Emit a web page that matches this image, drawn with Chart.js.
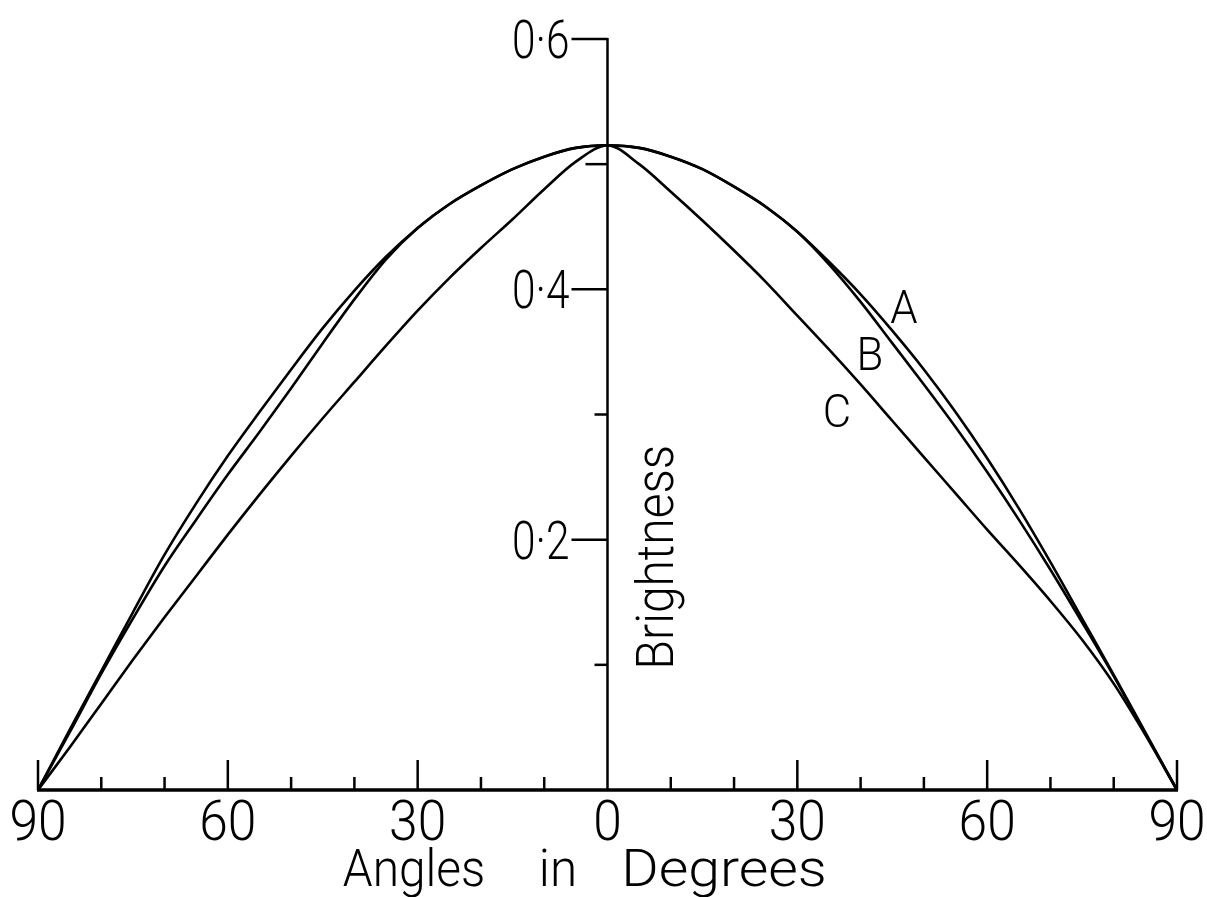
<!DOCTYPE html>
<html>
<head>
<meta charset="utf-8">
<title>Brightness</title>
<script src="https://cdn.jsdelivr.net/npm/chart.js@4/dist/chart.umd.min.js"></script>
<style>
  html, body { margin: 0; padding: 0; background: #fff; }
  #wrap { width: 1207px; height: 897px; }
</style>
</head>
<body>
<div id="wrap"><canvas id="chart" width="1207" height="897"></canvas></div>
<script>
// angle of observation, left half drawn as negative
const ANGLES = [-90, -85, -80, -75, -70, -65, -60, -55, -50, -45, -40, -35, -30, -25, -20, -15, -10, -5,
  0, 5, 10, 15, 20, 25, 30, 35, 40, 45, 50, 55, 60, 65, 70, 75, 80, 85, 90];

const CURVE_A = [0, 0.048, 0.095, 0.142, 0.188, 0.229, 0.267, 0.302, 0.336, 0.369, 0.399, 0.426, 0.449, 0.468, 0.483, 0.496, 0.506, 0.513,
  0.515, 0.513, 0.506, 0.496, 0.482, 0.466, 0.446, 0.422, 0.396, 0.367, 0.336, 0.302, 0.265, 0.225, 0.182, 0.137, 0.092, 0.046, 0];

const CURVE_B = [0, 0.046, 0.093, 0.137, 0.179, 0.216, 0.252, 0.286, 0.321, 0.357, 0.392, 0.424, 0.449, 0.468, 0.483, 0.496, 0.506, 0.513,
  0.515, 0.513, 0.506, 0.496, 0.482, 0.466, 0.446, 0.420, 0.390, 0.357, 0.324, 0.290, 0.254, 0.216, 0.176, 0.134, 0.091, 0.045, 0];

const CURVE_C = [0, 0.034, 0.069, 0.104, 0.138, 0.171, 0.204, 0.236, 0.267, 0.297, 0.326, 0.355, 0.383, 0.409, 0.433, 0.456, 0.480, 0.502,
  0.515, 0.500, 0.478, 0.455, 0.431, 0.406, 0.379, 0.352, 0.324, 0.295, 0.266, 0.237, 0.208, 0.180, 0.151, 0.120, 0.085, 0.044, 0];

const X_TICKS = [-90, -80, -70, -60, -50, -40, -30, -20, -10, 10, 20, 30, 40, 50, 60, 70, 80, 90];
const X_LABELS = [-90, -60, -30, 0, 30, 60, 90];
const Y_TICKS = [0.1, 0.2, 0.3, 0.4, 0.5, 0.6];
const Y_LABELS = [0.2, 0.4, 0.6];

const INK = "#000";
const FONT = "Roboto, 'DejaVu Sans', sans-serif";

function toPoints(values) {
  return ANGLES.map((a, i) => ({ x: a, y: values[i] }));
}

// light lettering, optionally squeezed or stretched horizontally
function letter(ctx, text, x, y, size, sx, align) {
  ctx.save();
  ctx.font = "300 " + size + "px " + FONT;
  ctx.fillStyle = INK;
  ctx.textBaseline = "alphabetic";
  ctx.translate(x, y);
  ctx.scale(sx, 1);
  const w = ctx.measureText(text).width;
  let dx = 0;
  if (align === "center") dx = -w / 2;
  if (align === "right") dx = -w;
  ctx.fillText(text, dx, 0);
  ctx.restore();
}

function fmt(v) {
  return v.toFixed(1).replace(".", "\u00b7");
}

const axesPlugin = {
  id: "axes",
  beforeDraw(chart) {
    const ctx = chart.ctx;
    ctx.save();
    ctx.fillStyle = "#fff";
    ctx.fillRect(0, 0, chart.width, chart.height);
    ctx.restore();
  },
  afterDraw(chart) {
    const ctx = chart.ctx;
    const xs = chart.scales.x;
    const ys = chart.scales.y;
    const x0 = xs.getPixelForValue(0);
    const yBase = ys.getPixelForValue(0);
    const yTop = ys.getPixelForValue(0.6);

    ctx.save();
    ctx.strokeStyle = INK;
    ctx.lineCap = "butt";

    // baseline
    ctx.lineWidth = 3.5;
    ctx.beginPath();
    ctx.moveTo(xs.getPixelForValue(-90) - 1, yBase);
    ctx.lineTo(xs.getPixelForValue(90) + 1, yBase);
    ctx.stroke();

    // vertical axis through 0
    ctx.lineWidth = 2.5;
    ctx.beginPath();
    ctx.moveTo(x0, yBase);
    ctx.lineTo(x0, yTop - 1);
    ctx.stroke();

    // x ticks point upward
    ctx.lineWidth = 2.5;
    X_TICKS.forEach((t) => {
      const px = xs.getPixelForValue(t);
      const len = t % 30 === 0 ? 30 : 13;
      ctx.beginPath();
      ctx.moveTo(px, yBase);
      ctx.lineTo(px, yBase - len);
      ctx.stroke();
    });

    // y ticks point left
    Y_TICKS.forEach((t) => {
      const py = ys.getPixelForValue(t);
      const major = Y_LABELS.some((v) => Math.abs(v - t) < 1e-6);
      const len = major ? 36 : (t > 0.45 ? 22 : 13);
      ctx.beginPath();
      ctx.moveTo(x0, py);
      ctx.lineTo(x0 - len, py);
      ctx.stroke();
    });
    ctx.restore();

    // tick labels
    X_LABELS.forEach((t) => {
      letter(ctx, String(Math.abs(t)), xs.getPixelForValue(t), yBase + 50, 56, 0.92, "center");
    });
    Y_LABELS.forEach((t) => {
      const py = ys.getPixelForValue(t);
      letter(ctx, fmt(t), x0 - 38, py + 19, 53, 0.8, "right");
    });

    // axis titles
    letter(ctx, "Angles", 414, yBase + 96, 52, 0.92, "center");
    letter(ctx, "in", 558, yBase + 96, 52, 0.95, "center");
    letter(ctx, "Degrees", 724, yBase + 96, 52, 1.1, "center");

    ctx.save();
    ctx.translate(x0 + 65, ys.getPixelForValue(0.186));
    ctx.rotate(-Math.PI / 2);
    letter(ctx, "Brightness", 0, 0, 51, 0.94, "center");
    ctx.restore();

    // curve names
    letter(ctx, "A", 904, 323, 46, 0.95, "center");
    letter(ctx, "B", 870, 370, 46, 0.95, "center");
    letter(ctx, "C", 837, 427, 46, 0.95, "center");
  }
};

const lineStyle = {
  borderColor: INK,
  borderWidth: 2.6,
  pointRadius: 0,
  fill: false,
  cubicInterpolationMode: "monotone",
  clip: false
};

new Chart(document.getElementById("chart"), {
  type: "line",
  data: {
    datasets: [
      { label: "A", data: toPoints(CURVE_A), ...lineStyle },
      { label: "B", data: toPoints(CURVE_B), ...lineStyle },
      { label: "C", data: toPoints(CURVE_C), ...lineStyle }
    ]
  },
  options: {
    responsive: false,
    animation: false,
    events: [],
    layout: { padding: { left: 38, right: 30, top: 39, bottom: 107 } },
    plugins: { legend: { display: false }, tooltip: { enabled: false } },
    scales: {
      x: { type: "linear", min: -90, max: 90, display: false },
      y: { type: "linear", min: 0, max: 0.6, display: false }
    }
  },
  plugins: [axesPlugin]
});
</script>
</body>
</html>
